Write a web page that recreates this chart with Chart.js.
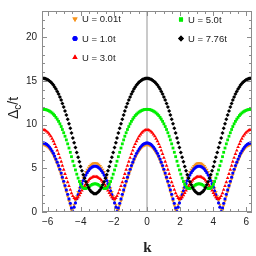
<!DOCTYPE html>
<html>
<head>
<meta charset="utf-8">
<script src="https://cdn.jsdelivr.net/npm/chart.js@4.4.1/dist/chart.umd.min.js"></script>
<style>
html, body { margin: 0; padding: 0; background: #fff; }
</style>
</head>
<body>
<canvas id="myChart" width="256" height="256"></canvas>
<script>
// k grid, step pi/40 from -2pi to 2pi
const kValues = [-6.28, -6.20, -6.13, -6.05, -5.97, -5.89, -5.81, -5.73, -5.65, -5.58, -5.50, -5.42, -5.34, -5.26, -5.18, -5.11, -5.03, -4.95, -4.87, -4.79,
    -4.71, -4.63, -4.56, -4.48, -4.40, -4.32, -4.24, -4.16, -4.08, -4.01, -3.93, -3.85, -3.77, -3.69, -3.61, -3.53, -3.46, -3.38, -3.30, -3.22,
    -3.14, -3.06, -2.98, -2.91, -2.83, -2.75, -2.67, -2.59, -2.51, -2.43, -2.36, -2.28, -2.20, -2.12, -2.04, -1.96, -1.88, -1.81, -1.73, -1.65,
    -1.57, -1.49, -1.41, -1.34, -1.26, -1.18, -1.10, -1.02, -0.94, -0.86, -0.79, -0.71, -0.63, -0.55, -0.47, -0.39, -0.31, -0.24, -0.16, -0.08,
    0, 0.08, 0.16, 0.24, 0.31, 0.39, 0.47, 0.55, 0.63, 0.71, 0.79, 0.86, 0.94, 1.02, 1.10, 1.18, 1.26, 1.34, 1.41, 1.49,
    1.57, 1.65, 1.73, 1.81, 1.88, 1.96, 2.04, 2.12, 2.20, 2.28, 2.36, 2.43, 2.51, 2.59, 2.67, 2.75, 2.83, 2.91, 2.98, 3.06,
    3.14, 3.22, 3.30, 3.38, 3.46, 3.53, 3.61, 3.69, 3.77, 3.85, 3.93, 4.01, 4.08, 4.16, 4.24, 4.32, 4.40, 4.48, 4.56, 4.63,
    4.71, 4.79, 4.87, 4.95, 5.03, 5.11, 5.18, 5.26, 5.34, 5.42, 5.50, 5.58, 5.65, 5.73, 5.81, 5.89, 5.97, 6.05, 6.13, 6.20, 6.28];

const gapU001 = [7.70, 7.68, 7.62, 7.53, 7.40, 7.22, 7.02, 6.78, 6.50, 6.19, 5.86, 5.49, 5.10, 4.68, 4.23, 3.77, 3.29, 2.80, 2.29, 1.78, 1.26, 0.73, 0.21, 0.31, 0.82, 1.32, 1.80, 2.27, 2.72, 3.15, 3.55, 3.92, 4.26, 4.56, 4.83, 5.06, 5.26, 5.41, 5.51, 5.58, 5.60,
    5.58, 5.51, 5.41, 5.26, 5.06, 4.83, 4.56, 4.26, 3.92, 3.55, 3.15, 2.72, 2.27, 1.80, 1.32, 0.82, 0.31, 0.21, 0.73, 1.26, 1.78, 2.29, 2.80, 3.29, 3.77, 4.23, 4.68, 5.10, 5.49, 5.86, 6.19, 6.50, 6.78, 7.02, 7.22, 7.40, 7.53, 7.62, 7.68, 7.70,
    7.68, 7.62, 7.53, 7.40, 7.22, 7.02, 6.78, 6.50, 6.19, 5.86, 5.49, 5.10, 4.68, 4.23, 3.77, 3.29, 2.80, 2.29, 1.78, 1.26, 0.73, 0.21, 0.31, 0.82, 1.32, 1.80, 2.27, 2.72, 3.15, 3.55, 3.92, 4.26, 4.56, 4.83, 5.06, 5.26, 5.41, 5.51, 5.58, 5.60,
    5.58, 5.51, 5.41, 5.26, 5.06, 4.83, 4.56, 4.26, 3.92, 3.55, 3.15, 2.72, 2.27, 1.80, 1.32, 0.82, 0.31, 0.21, 0.73, 1.26, 1.78, 2.29, 2.80, 3.29, 3.77, 4.23, 4.68, 5.10, 5.49, 5.86, 6.19, 6.50, 6.78, 7.02, 7.22, 7.40, 7.53, 7.62, 7.68, 7.70];

const gapU1 = [7.90, 7.88, 7.82, 7.73, 7.60, 7.43, 7.22, 6.98, 6.71, 6.40, 6.06, 5.70, 5.31, 4.89, 4.45, 3.99, 3.52, 3.03, 2.53, 2.02, 1.50, 0.99, 0.47, 0.04, 0.55, 1.04, 1.52, 1.98, 2.42, 2.84, 3.24, 3.60, 3.93, 4.23, 4.50, 4.72, 4.91, 5.06, 5.16, 5.23, 5.25,
    5.23, 5.16, 5.06, 4.91, 4.72, 4.50, 4.23, 3.93, 3.60, 3.24, 2.84, 2.42, 1.98, 1.52, 1.04, 0.55, 0.04, 0.47, 0.99, 1.50, 2.02, 2.53, 3.03, 3.52, 3.99, 4.45, 4.89, 5.31, 5.70, 6.06, 6.40, 6.71, 6.98, 7.22, 7.43, 7.60, 7.73, 7.82, 7.88, 7.90,
    7.88, 7.82, 7.73, 7.60, 7.43, 7.22, 6.98, 6.71, 6.40, 6.06, 5.70, 5.31, 4.89, 4.45, 3.99, 3.52, 3.03, 2.53, 2.02, 1.50, 0.99, 0.47, 0.04, 0.55, 1.04, 1.52, 1.98, 2.42, 2.84, 3.24, 3.60, 3.93, 4.23, 4.50, 4.72, 4.91, 5.06, 5.16, 5.23, 5.25,
    5.23, 5.16, 5.06, 4.91, 4.72, 4.50, 4.23, 3.93, 3.60, 3.24, 2.84, 2.42, 1.98, 1.52, 1.04, 0.55, 0.04, 0.47, 0.99, 1.50, 2.02, 2.53, 3.03, 3.52, 3.99, 4.45, 4.89, 5.31, 5.70, 6.06, 6.40, 6.71, 6.98, 7.22, 7.43, 7.60, 7.73, 7.82, 7.88, 7.90];

const gapU3 = [9.40, 9.38, 9.32, 9.21, 9.07, 8.88, 8.66, 8.40, 8.11, 7.78, 7.43, 7.04, 6.64, 6.21, 5.76, 5.30, 4.84, 4.36, 3.89, 3.42, 2.97, 2.54, 2.16, 1.83, 1.60, 1.50, 1.54, 1.70, 1.92, 2.18, 2.46, 2.73, 2.99, 3.22, 3.43, 3.62, 3.77, 3.89, 3.98, 4.03, 4.05,
    4.03, 3.98, 3.89, 3.77, 3.62, 3.43, 3.22, 2.99, 2.73, 2.46, 2.18, 1.92, 1.70, 1.54, 1.50, 1.60, 1.83, 2.16, 2.54, 2.97, 3.42, 3.89, 4.36, 4.84, 5.30, 5.76, 6.21, 6.64, 7.04, 7.43, 7.78, 8.11, 8.40, 8.66, 8.88, 9.07, 9.21, 9.32, 9.38, 9.40,
    9.38, 9.32, 9.21, 9.07, 8.88, 8.66, 8.40, 8.11, 7.78, 7.43, 7.04, 6.64, 6.21, 5.76, 5.30, 4.84, 4.36, 3.89, 3.42, 2.97, 2.54, 2.16, 1.83, 1.60, 1.50, 1.54, 1.70, 1.92, 2.18, 2.46, 2.73, 2.99, 3.22, 3.43, 3.62, 3.77, 3.89, 3.98, 4.03, 4.05,
    4.03, 3.98, 3.89, 3.77, 3.62, 3.43, 3.22, 2.99, 2.73, 2.46, 2.18, 1.92, 1.70, 1.54, 1.50, 1.60, 1.83, 2.16, 2.54, 2.97, 3.42, 3.89, 4.36, 4.84, 5.30, 5.76, 6.21, 6.64, 7.04, 7.43, 7.78, 8.11, 8.40, 8.66, 8.88, 9.07, 9.21, 9.32, 9.38, 9.40];

const gapU5 = [11.75, 11.74, 11.72, 11.68, 11.62, 11.54, 11.45, 11.33, 11.19, 11.03, 10.83, 10.62, 10.37, 10.09, 9.78, 9.44, 9.07, 8.67, 8.25, 7.80, 7.32, 6.83, 6.33, 5.81, 5.30, 4.81, 4.33, 3.88, 3.49, 3.16, 2.91, 2.75, 2.68, 2.69, 2.76, 2.86, 2.97, 3.07, 3.16, 3.21, 3.23,
    3.21, 3.16, 3.07, 2.97, 2.86, 2.76, 2.69, 2.68, 2.75, 2.91, 3.16, 3.49, 3.88, 4.33, 4.81, 5.30, 5.81, 6.33, 6.83, 7.32, 7.80, 8.25, 8.67, 9.07, 9.44, 9.78, 10.09, 10.37, 10.62, 10.83, 11.03, 11.19, 11.33, 11.45, 11.54, 11.62, 11.68, 11.72, 11.74, 11.75,
    11.74, 11.72, 11.68, 11.62, 11.54, 11.45, 11.33, 11.19, 11.03, 10.83, 10.62, 10.37, 10.09, 9.78, 9.44, 9.07, 8.67, 8.25, 7.80, 7.32, 6.83, 6.33, 5.81, 5.30, 4.81, 4.33, 3.88, 3.49, 3.16, 2.91, 2.75, 2.68, 2.69, 2.76, 2.86, 2.97, 3.07, 3.16, 3.21, 3.23,
    3.21, 3.16, 3.07, 2.97, 2.86, 2.76, 2.69, 2.68, 2.75, 2.91, 3.16, 3.49, 3.88, 4.33, 4.81, 5.30, 5.81, 6.33, 6.83, 7.32, 7.80, 8.25, 8.67, 9.07, 9.44, 9.78, 10.09, 10.37, 10.62, 10.83, 11.03, 11.19, 11.33, 11.45, 11.54, 11.62, 11.68, 11.72, 11.74, 11.75];

const gapU776 = [15.30, 15.29, 15.25, 15.19, 15.11, 15.00, 14.87, 14.71, 14.52, 14.31, 14.07, 13.80, 13.50, 13.17, 12.81, 12.42, 12.01, 11.56, 11.10, 10.61, 10.10, 9.57, 9.03, 8.48, 7.93, 7.37, 6.82, 6.27, 5.74, 5.22, 4.73, 4.27, 3.85, 3.45, 3.11, 2.81, 2.56, 2.36, 2.22, 2.13, 2.10,
    2.13, 2.22, 2.36, 2.56, 2.81, 3.11, 3.45, 3.85, 4.27, 4.73, 5.22, 5.74, 6.27, 6.82, 7.37, 7.93, 8.48, 9.03, 9.57, 10.10, 10.61, 11.10, 11.56, 12.01, 12.42, 12.81, 13.17, 13.50, 13.80, 14.07, 14.31, 14.52, 14.71, 14.87, 15.00, 15.11, 15.19, 15.25, 15.29, 15.30,
    15.29, 15.25, 15.19, 15.11, 15.00, 14.87, 14.71, 14.52, 14.31, 14.07, 13.80, 13.50, 13.17, 12.81, 12.42, 12.01, 11.56, 11.10, 10.61, 10.10, 9.57, 9.03, 8.48, 7.93, 7.37, 6.82, 6.27, 5.74, 5.22, 4.73, 4.27, 3.85, 3.45, 3.11, 2.81, 2.56, 2.36, 2.22, 2.13, 2.10,
    2.13, 2.22, 2.36, 2.56, 2.81, 3.11, 3.45, 3.85, 4.27, 4.73, 5.22, 5.74, 6.27, 6.82, 7.37, 7.93, 8.48, 9.03, 9.57, 10.10, 10.61, 11.10, 11.56, 12.01, 12.42, 12.81, 13.17, 13.50, 13.80, 14.07, 14.31, 14.52, 14.71, 14.87, 15.00, 15.11, 15.19, 15.25, 15.29, 15.30];

const seriesLabels = ['U = 0.01t', 'U = 1.0t', 'U = 3.0t', 'U = 5.0t', 'U = 7.76t'];
const xTickValues = [-6, -4, -2, 0, 2, 4, 6];
const yTickValues = [0, 5, 10, 15, 20];

function toPoints(ys) {
    return ys.map((v, i) => ({ x: kValues[i], y: v }));
}

const styles = [
    { color: '#f7941d', style: 'triangle', rotation: 180, radius: 2.1 },
    { color: '#0000ff', style: 'circle', rotation: 0, radius: 1.6 },
    { color: '#ff0000', style: 'triangle', rotation: 0, radius: 2.1 },
    { color: '#00ee00', style: 'rect', rotation: 0, radius: 2.0 },
    { color: '#000000', style: 'rectRot', rotation: 0, radius: 2.0 }
];
const allValues = [gapU001, gapU1, gapU3, gapU5, gapU776];

const datasets = allValues.map((vals, i) => ({
    label: seriesLabels[i],
    data: toPoints(vals),
    showLine: false,
    pointStyle: styles[i].style,
    pointRotation: styles[i].rotation,
    pointRadius: styles[i].radius,
    pointBorderWidth: 0,
    backgroundColor: styles[i].color,
    borderColor: styles[i].color,
    order: 5 - i
}));

const minus = (v) => String(v).replace('-', '\u2212');

const framePlugin = {
    id: 'frame',
    beforeDatasetsDraw(chart) {
        const { ctx, chartArea: a, scales: { x } } = chart;
        const x0 = x.getPixelForValue(0);
        ctx.save();
        ctx.strokeStyle = '#b8b8b8';
        ctx.lineWidth = 1.5;
        ctx.beginPath();
        ctx.moveTo(x0, a.top);
        ctx.lineTo(x0, a.bottom);
        ctx.stroke();
        ctx.restore();
    },
    afterDatasetsDraw(chart) {
        const { ctx, chartArea: a, scales: { x, y } } = chart;
        ctx.save();
        ctx.strokeStyle = '#8c8c8c';
        ctx.lineWidth = 1;
        ctx.strokeRect(a.left + 0.5, a.top + 0.5, a.right - a.left - 1, a.bottom - a.top - 1);
        ctx.beginPath();
        for (let v = -6; v <= 6.01; v += 0.5) {
            const px = Math.round(x.getPixelForValue(v)) + 0.5;
            const len = (Math.abs(v % 2) < 0.01) ? 5 : 3;
            ctx.moveTo(px, a.bottom);
            ctx.lineTo(px, a.bottom - len);
            ctx.moveTo(px, a.top);
            ctx.lineTo(px, a.top + len);
        }
        for (let v = 0; v <= 23; v += 1) {
            const py = Math.round(y.getPixelForValue(v)) + 0.5;
            const len = (v % 5 === 0) ? 5 : 3;
            ctx.moveTo(a.left, py);
            ctx.lineTo(a.left + len, py);
            ctx.moveTo(a.right, py);
            ctx.lineTo(a.right - len, py);
        }
        ctx.stroke();
        ctx.restore();
    },
    afterDraw(chart) {
        const { ctx } = chart;
        const legendPos = [[75, 19], [75, 38.5], [75, 57.5], [181, 19.5], [181, 38.5]];
        ctx.save();
        ctx.font = '9.5px "Liberation Sans", Arial, sans-serif';
        ctx.textBaseline = 'middle';
        ctx.textAlign = 'left';
        legendPos.forEach((p, i) => {
            const s = styles[i];
            ctx.fillStyle = s.color;
            Chart.helpers.drawPoint(ctx, {
                pointStyle: s.style,
                rotation: s.rotation,
                radius: s.radius + 0.9,
                borderWidth: 0
            }, p[0], p[1]);
            ctx.fill();
            ctx.fillStyle = '#222';
            ctx.fillText(seriesLabels[i], p[0] + 7, p[1] + 0.5);
        });

        // x title
        ctx.font = 'bold 15px "Liberation Serif", serif';
        ctx.textAlign = 'center';
        ctx.textBaseline = 'alphabetic';
        ctx.fillText('k', 147.5, 252);

        // y title: Delta_c / t
        ctx.translate(18, 108);
        ctx.rotate(-Math.PI / 2);
        ctx.textAlign = 'left';
        const big = '14px "Liberation Sans", Arial, sans-serif';
        const small = '10px "Liberation Sans", Arial, sans-serif';
        ctx.font = big;
        const w1 = ctx.measureText('\u0394').width;
        const w3 = ctx.measureText('/t').width;
        ctx.font = small;
        const w2 = ctx.measureText('c').width;
        let cx = -(w1 + w2 + w3) / 2;
        ctx.font = big;
        ctx.fillText('\u0394', cx, 0);
        cx += w1;
        ctx.font = small;
        ctx.fillText('c', cx, 3);
        cx += w2;
        ctx.font = big;
        ctx.fillText('/t', cx, 0);
        ctx.restore();
    }
};

const ctx = document.getElementById('myChart');
new Chart(ctx, {
    type: 'scatter',
    data: { datasets: datasets },
    options: {
        responsive: false,
        animation: false,
        layout: { padding: { top: 1, right: 3, left: 0, bottom: 0 } },
        plugins: {
            legend: { display: false },
            tooltip: { enabled: false }
        },
        scales: {
            x: {
                type: 'linear',
                min: -6.34,
                max: 6.34,
                grid: { display: false, drawTicks: false },
                border: { display: false },
                afterBuildTicks: (scale) => { scale.ticks = xTickValues.map(v => ({ value: v })); },
                afterFit: (scale) => { scale.height = 44; },
                ticks: {
                    padding: 4,
                    color: '#222',
                    font: { size: 10, family: '"Liberation Sans", Arial, sans-serif' },
                    callback: (v) => minus(v),
                    maxRotation: 0
                }
            },
            y: {
                min: 0,
                max: 23,
                grid: { display: false, drawTicks: false },
                border: { display: false },
                afterBuildTicks: (scale) => { scale.ticks = yTickValues.map(v => ({ value: v })); },
                afterFit: (scale) => { scale.width = 42; },
                ticks: {
                    padding: 5,
                    color: '#222',
                    font: { size: 10, family: '"Liberation Sans", Arial, sans-serif' }
                }
            }
        }
    },
    plugins: [framePlugin]
});
</script>
</body>
</html>
